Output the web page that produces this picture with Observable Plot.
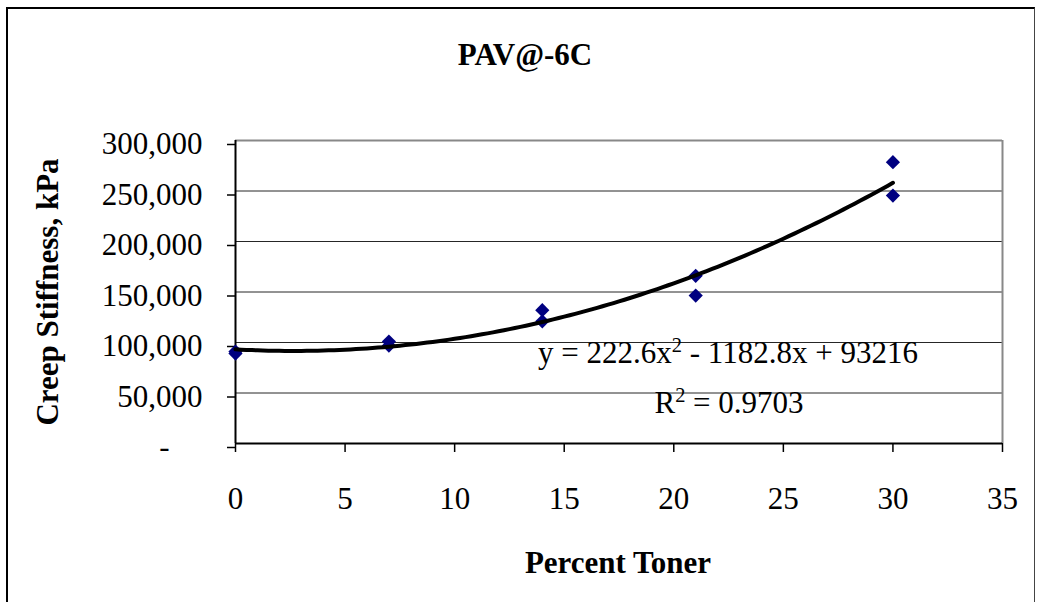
<!DOCTYPE html>
<html><head><meta charset="utf-8">
<script src="https://cdn.jsdelivr.net/npm/d3@7"></script>
<script src="https://cdn.jsdelivr.net/npm/@observablehq/plot@0.6"></script>
<style>
body{margin:0;background:#fff}
#wrap{position:relative;width:1041px;height:602px;overflow:hidden;background:#fff}
#border{position:absolute;left:6px;top:7px;width:1026px;height:640px;border-left:2px solid #000;border-top:2px solid #000;border-right:1px solid #444;pointer-events:none}
</style></head><body>
<div id="wrap"><div id="chart"></div><div id="border"></div></div>
<script>
const title = "PAV@-6C";
const xLabel = "Percent Toner";
const yLabel = "Creep Stiffness, kPa";
const percentToner = [0, 0, 7, 7, 14, 14, 21, 21, 30, 30];
const stiffness = [89000, 91000, 97000, 101000, 121000, 132000, 146500, 166000, 245500, 278500];
const xTicks = [0, 5, 10, 15, 20, 25, 30, 35];
const yTicks = [0, 50000, 100000, 150000, 200000, 250000, 300000];
const trendCoef = [222.6, -1182.8, 93216];
const trendRange = [0, 30];
const trendText = "y = 222.6x² - 1182.8x + 93216";
const r2Text = "R² = 0.9703";

const points = percentToner.map((x, i) => ({x, y: stiffness[i]}));
const [a, b, c] = trendCoef;
const trend = d3.range(trendRange[0], trendRange[1] + 0.001, 0.25).map(x => ({x, y: a * x * x + b * x + c}));
const fmt = d3.format(",");

const plot = Plot.plot({
  width: 1041, height: 602,
  marginLeft: 235, marginRight: 39, marginTop: 140, marginBottom: 159,
  style: {fontFamily: "'Liberation Serif','Times New Roman',serif", fontSize: "31px", color: "#000", background: "transparent", overflow: "visible"},
  x: {domain: [0, 35]},
  y: {domain: [0, 300000]},
  marks: [
    Plot.gridY(yTicks.slice(1, -1), {stroke: "#000", strokeOpacity: 0.85, strokeWidth: 1}),
    Plot.ruleY([yTicks[yTicks.length - 1]], {stroke: "#888", strokeWidth: 2}),
    Plot.ruleX([xTicks[xTicks.length - 1]], {stroke: "#888", strokeWidth: 2}),
    Plot.axisY(yTicks.slice(1), {tickSize: 8, tickPadding: 25, tickFormat: d => fmt(d), dy: 4, label: null, strokeWidth: 1.5}),
    Plot.axisY(yTicks.slice(0, 1), {tickSize: 8, tickPadding: 58, tickFormat: () => "-", dy: 4, label: null, strokeWidth: 1.5}),
    Plot.axisX(xTicks, {tickSize: 9, tickPadding: 34, label: null, strokeWidth: 1.5}),
    Plot.ruleX([0], {stroke: "#000", strokeWidth: 2}),
    Plot.ruleY([0], {stroke: "#000", strokeWidth: 2}),
    Plot.dot(points, {x: "x", y: "y", symbol: "diamond2", r: 6.4, fill: "#000080", stroke: "none"}),
    Plot.line(trend, {x: "x", y: "y", stroke: "#000", strokeWidth: 4, curve: "linear"}),
    Plot.text([trendText], {text: d => d, frameAnchor: "bottom", lineAnchor: "middle", textAnchor: "middle", dx: 109, dy: -90, className: "sup-eq"}),
    Plot.text([r2Text], {text: d => d, frameAnchor: "bottom", lineAnchor: "middle", textAnchor: "middle", dx: 110, dy: -40, className: "sup-eq"}),
    Plot.text([title], {text: d => d, frameAnchor: "top", lineAnchor: "middle", textAnchor: "middle", dx: -94, dy: -85, fontWeight: "bold"}),
    Plot.text([xLabel], {text: d => d, frameAnchor: "bottom", lineAnchor: "middle", textAnchor: "middle", dx: -1, dy: 120, fontWeight: "bold"}),
    Plot.text([yLabel], {text: d => d, frameAnchor: "left", lineAnchor: "middle", textAnchor: "middle", rotate: -90, dx: -187, dy: 0, fontWeight: "bold"})
  ]
});
// render the "²" as a raised superscript like the original trendline label
plot.querySelectorAll("g.sup-eq text").forEach(t => {
  const s = t.textContent;
  const i = s.indexOf("²");
  if (i < 0) return;
  const dy0 = t.getAttribute("dy");
  t.textContent = "";
  const ns = "http://www.w3.org/2000/svg";
  const t1 = document.createElementNS(ns, "tspan"); t1.textContent = s.slice(0, i);
  const t2 = document.createElementNS(ns, "tspan"); t2.textContent = "2";
  t2.setAttribute("dy", "-0.58em"); t2.setAttribute("font-size", "0.66em");
  const t3 = document.createElementNS(ns, "tspan"); t3.textContent = s.slice(i + 1);
  t3.setAttribute("dy", "0.38em");
  t.append(t1, t2, t3);
});
document.getElementById("chart").append(plot);
</script>
</body></html>
